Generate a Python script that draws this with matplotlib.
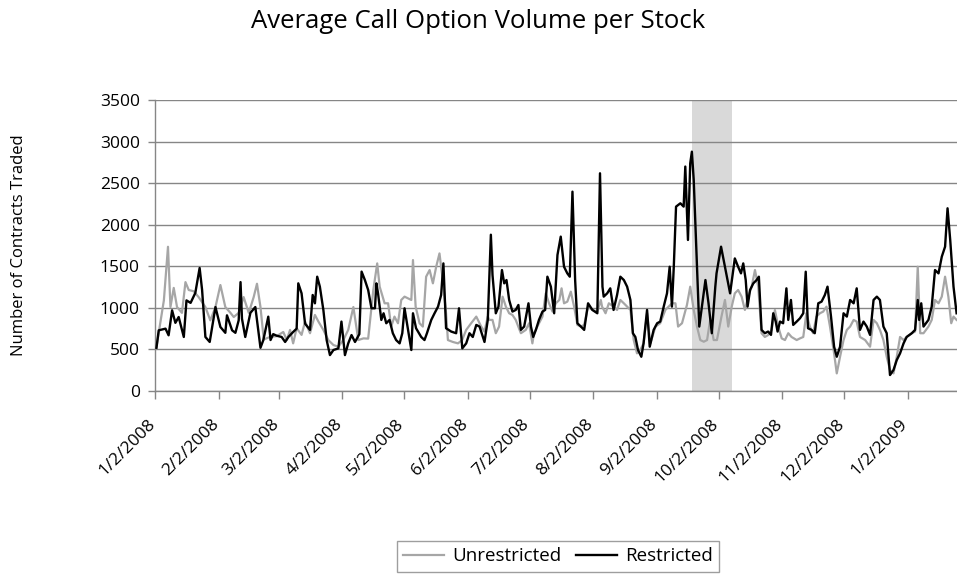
import datetime as dt
import matplotlib
matplotlib.use("Agg")
import matplotlib.pyplot as plt
import matplotlib.transforms as mtransforms

plt.rcParams['font.family'] = ['Open Sans', 'DejaVu Sans']

title = "Average Call Option Volume per Stock"
ylabel = "Number of Contracts Traded"
start_date = dt.datetime(2008, 1, 2)

tick_labels = ['1/2/2008', '2/2/2008', '3/2/2008', '4/2/2008', '5/2/2008', '6/2/2008',
               '7/2/2008', '8/2/2008', '9/2/2008', '10/2/2008', '11/2/2008', '12/2/2008',
               '1/2/2009']
y_ticks = [0, 500, 1000, 1500, 2000, 2500, 3000, 3500]

# short-sale restriction window (shaded)
ban_start = dt.datetime(2008, 9, 19)
ban_end = dt.datetime(2008, 10, 8, 12)

# Restricted series: days after 1/2/2008, value
restricted_days = [
    0.5, 1.6, 4.9, 6.4, 8.1, 9.7, 11.3, 13.8, 15.1, 17.1, 19.4, 21.5, 22.7, 24.3, 26.4, 29.2,
    31.6, 34.0, 34.8, 37.3, 38.9, 40.5, 41.4, 42.1, 43.7, 46.2, 48.6, 51.1,
    52.5, 54.9, 56.0, 57.3, 59.0, 61.4, 63.1, 64.7, 67.0, 68.7, 69.5, 71.1, 72.8, 75.2, 76.5,
    77.6, 78.7, 80.0, 81.7, 83.3, 84.9, 86.6, 89.0, 90.5, 92.2, 93.8, 95.4, 97.1, 99.2, 100.3,
    101.9, 103.5, 105.1, 106.8, 107.5,
    108.3, 109.9, 111.0, 112.3, 113.9, 115.5, 117.1, 118.8, 120.1, 121.2, 122.9, 124.5, 125.3,
    126.8, 129.3, 130.9, 132.1, 134.2, 135.8, 137.5, 139.0, 140.1, 141.4, 143.9, 146.3, 147.7,
    149.3, 151.2, 152.8, 154.4, 156.1, 157.7, 160.1, 161.7, 163.2,
    164.0, 165.6, 166.9, 168.6, 169.7, 170.8, 172.1, 173.7, 175.3, 176.6, 177.8, 179.4, 181.5,
    182.7, 183.8, 185.1, 186.6, 188.3, 189.6, 190.7, 192.4, 194.0, 195.6, 197.2, 198.8, 200.4,
    201.6, 202.9, 204.2, 205.3, 207.0, 208.6, 210.5, 212.6, 215.0, 216.3, 217.5,
    218.1, 219.8, 221.3, 222.9, 224.6, 226.2, 227.9, 229.5, 231.1, 232.3, 233.5, 234.8, 236.4,
    237.5, 239.2, 240.5, 242.4, 244.1, 245.6, 247.3, 248.9, 250.2, 251.3, 252.2, 253.3, 255.4,
    257.0, 257.8, 259.1, 260.2, 261.0, 261.9, 263.5, 264.6, 265.9, 267.6, 269.1, 270.7, 272.4,
    273.0, 275.2, 277.1, 279.6, 281.9, 283.5, 284.9, 286.0, 287.2, 288.1, 289.3, 290.9, 292.5,
    293.6, 294.9, 296.5, 298.1, 299.5, 300.6, 301.8, 302.7, 303.9, 305.4, 307.0, 307.9, 309.2,
    310.3, 312.0, 313.6, 315.2, 316.4, 317.5, 319.2, 320.8, 322.5, 324.1, 325.7, 327.0, 328.7,
    330.2,
    331.5, 333.1, 334.8, 336.4, 338.0, 339.7, 341.2, 342.8, 344.5, 346.1, 347.7, 349.4, 351.0,
    352.5, 354.2, 355.8, 357.4, 359.1, 360.7, 362.3, 364.0, 365.5, 368.0, 369.6, 370.9, 371.6,
    372.6, 373.7, 376.1, 377.7, 379.3, 381.0, 382.6, 384.2, 385.4, 386.7, 388.3, 389.8]
restricted_values = [
    520, 730, 750, 670, 970, 820, 890, 650, 1090, 1060, 1180, 1480, 1215, 650, 590, 1010,
    770, 700, 910, 730, 700, 850, 1310, 870, 650, 940, 1010, 520,
    613, 894, 613, 684, 665, 650, 590, 650, 710, 750, 1295, 1175, 810, 735, 1155,
    1055, 1375, 1255, 975, 613, 432, 493, 513, 835, 432, 573, 673, 590, 684, 1436,
    1335, 1215, 995, 995, 1295,
    1175, 855, 935, 815, 855, 695, 613, 573, 695, 995, 735, 493, 935,
    755, 650, 613, 695, 855, 935, 1015, 1155, 1535, 755, 715, 695, 995,
    513, 573, 695, 650, 795, 775, 590, 855, 1880,
    1395, 935, 1015, 1455, 1295, 1335, 1095, 955, 975, 1035, 735, 775, 1055,
    775, 650, 735, 855, 955, 975, 1375, 1255, 935, 1636, 1857, 1495, 1415,
    1375, 2398, 1335, 815, 775, 735, 1055, 975, 935, 2619, 1255,
    1135, 1175, 1235, 975, 1155, 1375, 1335, 1255, 1095, 695, 650, 493, 412,
    573, 975, 533, 735, 815, 835, 1015, 1175, 1495, 1015, 1495, 2218, 2258,
    2218, 2700, 1817, 2739, 2879, 2539, 1495, 775, 1015, 1335, 1055, 695, 1255,
    1415, 1736, 1495, 1175, 1595, 1495, 1415, 1535, 1335, 1015, 1215, 1295, 1335,
    1375, 735, 695, 715, 675, 935, 835, 715, 835, 815, 1235, 855, 1095,
    795, 835, 875, 935, 1435, 755, 735, 695, 1055, 1075, 1155, 1255, 895,
    533,
    412, 533, 935, 895, 1095, 1055, 1235, 735, 835, 775, 675, 1095, 1135,
    1095, 775, 695, 192, 253, 373, 453, 573, 650, 695, 735, 1095, 855,
    1055, 775, 855, 1015, 1455, 1415, 1616, 1736, 2198, 1817, 1255, 935]

# Unrestricted series: days after 1/2/2008, value
unrestricted_days = [
    0.5, 4.1, 6.1, 7.3, 8.9, 10.5, 12.9, 14.6, 16.2, 18.6, 21.0, 24.3, 26.7, 29.2, 31.6, 34.0,
    36.5, 38.1, 40.5, 42.9, 45.4, 47.8, 49.4, 51.1, 52.7,
    55.7, 59.0, 62.2, 63.9, 65.5, 67.0, 68.7, 71.1, 72.8, 75.2, 77.6, 79.3, 81.7, 84.1, 86.6,
    89.0, 91.4, 93.8, 96.3, 98.7, 101.2, 103.5, 106.0, 107.9,
    109.1, 111.5, 113.2, 114.7, 116.3, 118.0, 119.6, 121.2, 122.9, 124.5, 125.3, 126.6, 128.5,
    130.1, 131.7, 133.4, 135.0, 136.6, 138.2, 139.8, 141.4, 142.3, 144.7, 147.2, 149.2, 151.2,
    153.6, 156.1, 158.5, 160.1, 161.7,
    162.4, 164.0, 165.6, 167.2, 168.9, 170.5, 172.1, 173.7, 175.3, 177.8, 180.2, 181.8, 183.4,
    184.2, 185.8, 188.3, 189.9, 191.5, 193.2, 194.8, 196.5, 197.6, 198.8, 200.4, 202.1, 203.7,
    205.3, 207.0, 208.6, 210.5, 212.6, 215.0, 216.7,
    217.3, 219.0, 220.6, 222.9, 224.6, 226.2, 227.9, 229.5, 231.1, 232.7, 234.3, 235.9, 237.5,
    239.2, 240.8, 243.3, 245.6, 248.1, 249.7, 251.3, 253.0, 254.3, 256.2, 258.6, 260.2, 261.9,
    263.5, 265.1, 266.8, 268.4, 269.9, 271.6, 273.2,
    275.4, 277.1, 278.7, 280.4, 281.9, 283.5, 285.2, 286.8, 288.4, 290.1, 291.7, 293.3, 294.9,
    296.5, 298.1, 299.8, 301.4, 303.0, 304.7, 306.3, 307.9, 309.5, 312.0, 313.6, 315.2, 316.7,
    318.4, 320.0, 321.6, 323.3, 324.9, 326.5, 328.2, 330.2,
    331.5, 333.1, 334.8, 336.4, 338.0, 339.7, 341.2, 342.8, 345.3, 347.7, 349.4, 351.0, 352.5,
    354.2, 355.8, 357.4, 359.1, 360.7, 362.3, 364.0, 365.5, 368.0, 369.6, 370.9, 372.1, 373.7,
    376.1, 377.7, 379.3, 381.0, 382.6, 384.2, 385.8, 387.2, 388.3, 389.8]
unrestricted_values = [
    530, 1090, 1735, 1010, 1240, 1010, 940, 1310, 1215, 1200, 1130, 1010, 850, 1010, 1275, 1010,
    940, 890, 940, 1130, 940, 1130, 1290, 1010, 620,
    650, 660, 710, 613, 735, 573, 755, 675, 835, 695, 915, 835, 735, 613, 553,
    533, 613, 735, 1010, 613, 633, 630, 1215, 1535,
    1255, 1055, 1055, 775, 895, 815, 1095, 1135, 1115, 1095, 1575, 1015, 815,
    775, 1375, 1455, 1295, 1495, 1655, 1335, 935, 613, 590, 573, 613, 735,
    815, 895, 775, 715, 895,
    855, 855, 695, 775, 1135, 1015, 935, 915, 855, 695, 735, 815, 573,
    695, 775, 895, 1175, 1055, 955, 1055, 1095, 1235, 1055, 1075, 1195, 1015,
    795, 775, 795, 1015, 975, 955, 1095,
    1015, 935, 1055, 1015, 975, 1095, 1055, 1015, 975, 613, 453, 493, 573,
    935, 573, 775, 815, 975, 1015, 1055, 1055, 775, 815, 1035, 1255, 975,
    775, 613, 593, 613, 855, 613, 613,
    895, 1095, 775, 1015, 1175, 1215, 1135, 975, 1135, 1255, 1455, 1255, 695,
    650, 673, 735, 975, 775, 633, 613, 695, 650, 613, 633, 650, 935,
    775, 695, 895, 935, 955, 1015, 775, 453,
    212, 412, 613, 735, 775, 855, 835, 650, 613, 533, 855, 815, 735,
    613, 412, 253, 212, 412, 650, 613, 650, 695, 715, 1495, 695, 695,
    775, 855, 1095, 1055, 1135, 1375, 1135, 815, 895, 855]

restricted_dates = [start_date + dt.timedelta(days=d) for d in restricted_days]
unrestricted_dates = [start_date + dt.timedelta(days=d) for d in unrestricted_days]
tick_dates = [dt.datetime.strptime(s, '%m/%d/%Y') for s in tick_labels]

fig = plt.figure(figsize=(9.57, 5.75), dpi=100)
ax = fig.add_axes([0.162, 0.32, 0.838, 0.506])

ax.axvspan(ban_start, ban_end, color='#d9d9d9', zorder=0.2, lw=0)
ax.plot(unrestricted_dates, unrestricted_values, color='#a6a6a6', lw=1.6,
        label='Unrestricted', zorder=2)
ax.plot(restricted_dates, restricted_values, color='#000000', lw=1.7,
        label='Restricted', zorder=3)

ax.set_xlim(start_date - dt.timedelta(days=0.2), start_date + dt.timedelta(days=390))
ax.set_ylim(0, 3500)
ax.set_yticks(y_ticks)
ax.set_yticklabels([str(v) for v in y_ticks], fontsize=12.5)
ax.set_xticks(tick_dates)
ax.set_xticklabels(tick_labels, rotation=45, ha='right', rotation_mode='anchor', fontsize=12.5)
ax.tick_params(axis='x', direction='out', length=6, width=1, color='#868686', pad=12)
ax.tick_params(axis='y', direction='out', length=5, width=1, color='#868686', pad=6)
offset = mtransforms.ScaledTranslation(-8 / 100, 0, fig.dpi_scale_trans)
for lbl in ax.get_xticklabels():
    lbl.set_transform(lbl.get_transform() + offset)

ax.set_axisbelow(True)
ax.yaxis.grid(True, color='#868686', lw=1)
for s in ['top', 'right']:
    ax.spines[s].set_visible(False)
for s in ['left', 'bottom']:
    ax.spines[s].set_color('#868686')
    ax.spines[s].set_linewidth(1)

ax.set_ylabel(ylabel, fontsize=12)
ax.yaxis.set_label_coords(-0.16, 0.5)

fig.text(0.5, 0.962, title, ha='center', va='center', fontsize=18.5)

leg = fig.legend(loc='upper center', bbox_to_anchor=(0.583, 0.076), ncol=2, fontsize=13.5,
                 frameon=True, fancybox=False, edgecolor='#868686', handlelength=2.2,
                 columnspacing=0.8, handletextpad=0.4, borderpad=0.35)
leg.get_frame().set_linewidth(1)

fig.savefig('out.png', dpi=100)
